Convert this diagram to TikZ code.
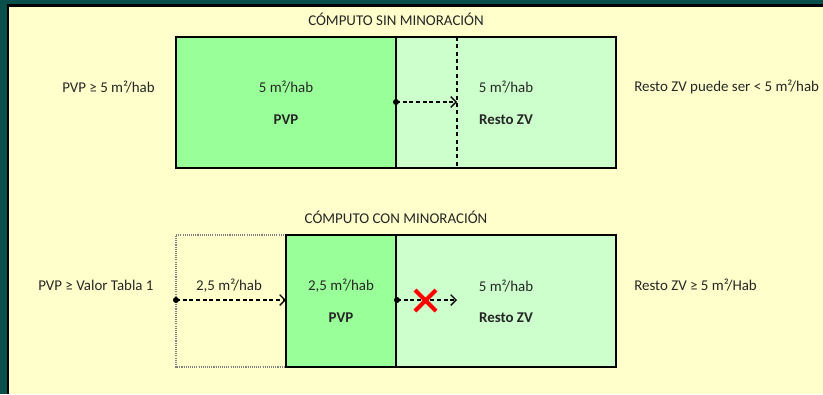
\documentclass[tikz,border=0pt]{standalone}
\usepackage{fontspec}
\setmainfont{Carlito}
\usetikzlibrary{arrows.meta}
\definecolor{teal1}{HTML}{0A4F4C}
\definecolor{bgy}{HTML}{FFFFCC}
\definecolor{pvpg}{HTML}{99FF99}
\definecolor{restog}{HTML}{CCFFCC}
\definecolor{dotg}{HTML}{808080}
\tikzset{
  lbl/.style={font=\fontsize{11.2}{13}\selectfont, text=black!85, inner sep=0pt},
  bl/.style={font=\bfseries\fontsize{11.2}{13}\selectfont, text=black!85, inner sep=0pt},
  boxln/.style={draw=black, line width=1.5pt},
  darr/.style={dashed, dash pattern=on 3pt off 2pt, line width=1pt, -{Straight Barb[length=4pt,width=8pt,line width=1pt]}},
  dotp/.style={circle, fill=black, inner sep=0pt, minimum size=4.5pt},
}
\begin{document}
\begin{tikzpicture}[x=0.75pt,y=-0.75pt]
\useasboundingbox (0,0) rectangle (823,394);
% frame
\fill[teal1] (0,0) rectangle (823,394);
\fill[black] (7,4) rectangle (823,394);
\fill[bgy] (9,7) rectangle (823,394);
% titles
\node[lbl] (t1) at (396,19) {CÓMPUTO SIN MINORACIÓN};
\node[lbl] (t2) at (396,217) {CÓMPUTO CON MINORACIÓN};
% top diagram
\fill[pvpg] (176,37) rectangle (396,168);
\fill[restog] (396,37) rectangle (616,168);
\draw[boxln] (176,37) rectangle (616,168);
\draw[line width=1pt] (396,37) -- (396,168);
\draw[dashed, dash pattern=on 3pt off 2.5pt, line width=1pt] (457,37) -- (457,168);
\node[dotp] (a1) at (396,102) {};
\coordinate (a1e) at (457,102);
\draw[darr] (a1.center) -- (a1e);
\node[lbl] (p1v) at (286,87) {5 m²/hab};
\node[bl] (p1n) at (286,120) {PVP};
\node[lbl] (r1v) at (506,87) {5 m²/hab};
\node[bl] (r1n) at (506,120) {Resto ZV};
\node[lbl, anchor=west] (l1) at (62,87) {PVP ≥ 5 m²/hab};
\node[lbl, anchor=west] (rr1) at (634,87) {Resto ZV puede ser < 5 m²/hab};
% bottom diagram
\fill[bgy] (176,235) rectangle (286,367);
\draw[dotg, line width=1.3pt, dash pattern=on 0.8pt off 0.8pt] (286,235) -- (176,235) -- (176,367) -- (286,367);
\fill[pvpg] (286,235) rectangle (396,367);
\fill[restog] (396,235) rectangle (616,367);
\draw[boxln] (286,235) rectangle (616,367);
\draw[line width=1pt] (396,235) -- (396,367);
\node[dotp] (b0) at (176,300) {};
\coordinate (b0e) at (286,300);
\draw[darr] (b0.center) -- (b0e);
\node[dotp] (b1) at (397,300) {};
\coordinate (b1e) at (457,300);
\draw[darr] (b1.center) -- (b1e);
\draw[red, line width=3pt] (415,290) -- (436,311) (415,311) -- (436,290);
\node[lbl] (d0v) at (229,286) {2,5 m²/hab};
\node[lbl] (p2v) at (341,286) {2,5 m²/hab};
\node[bl] (p2n) at (341,318) {PVP};
\node[lbl] (r2v) at (506,286) {5 m²/hab};
\node[bl] (r2n) at (506,318) {Resto ZV};
\node[lbl, anchor=west] (l2) at (38,285) {PVP ≥ Valor Tabla 1};
\node[lbl, anchor=west] (rr2) at (634,285) {Resto ZV ≥ 5 m²/Hab};
\end{tikzpicture}
\end{document}
